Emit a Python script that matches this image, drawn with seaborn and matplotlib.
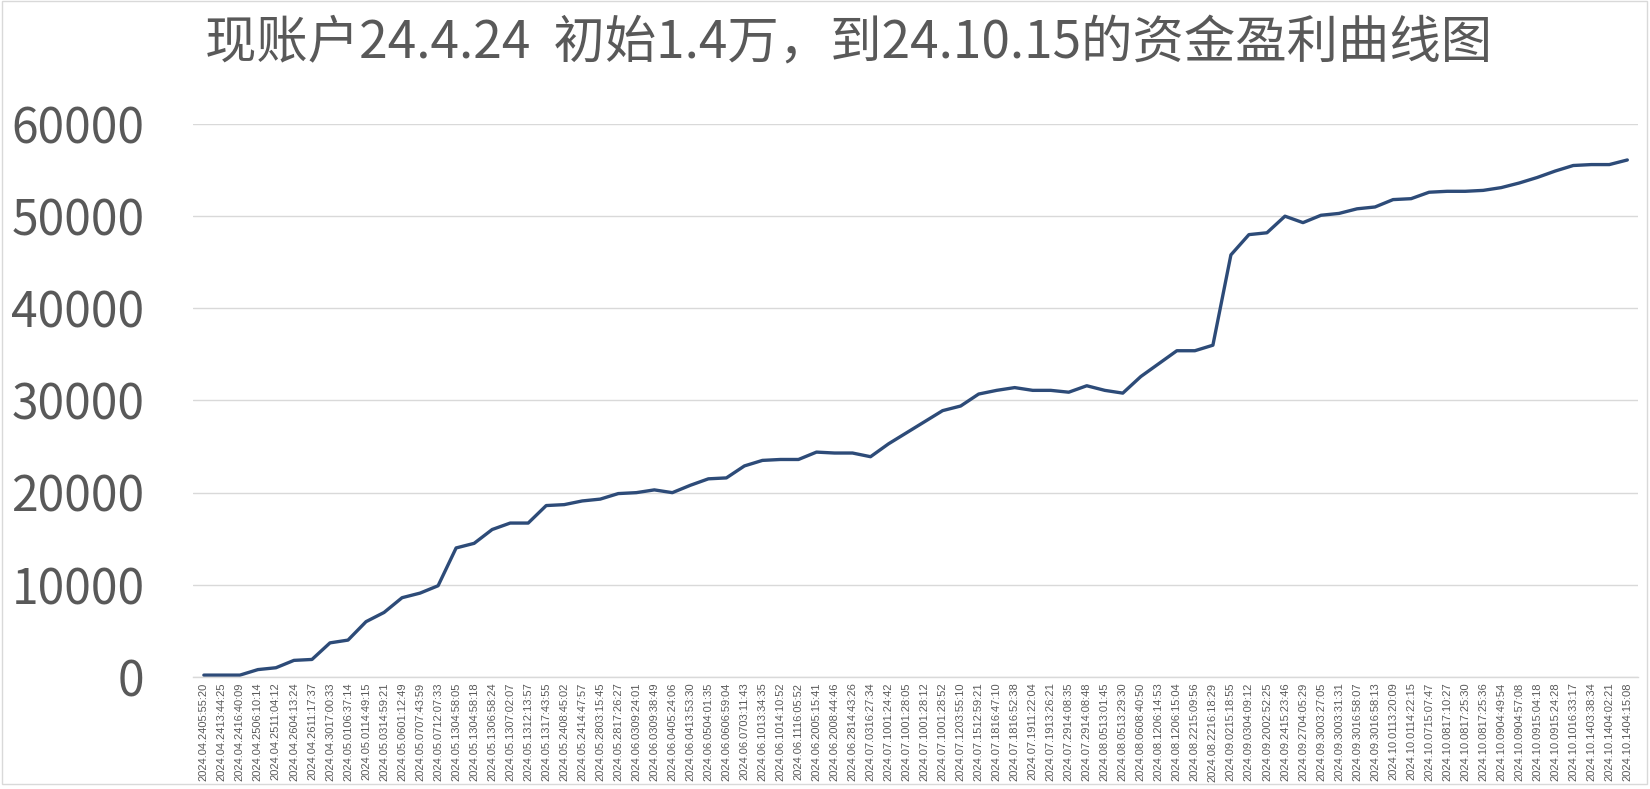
import numpy as np
import pandas as pd
import seaborn as sns
import matplotlib.pyplot as plt
from matplotlib.patches import Rectangle

# tick labels along the x axis (trade timestamps)
time_labels = [
    '2024.04.2405:55:20', '2024.04.2413:44:25', '2024.04.2416:40:09', '2024.04.2506:10:14',
    '2024.04.2511:04:12', '2024.04.2604:13:24', '2024.04.2611:17:37', '2024.04.3017:00:33',
    '2024.05.0106:37:14', '2024.05.0114:49:15', '2024.05.0314:59:21', '2024.05.0601:12:49',
    '2024.05.0707:43:59', '2024.05.0712:07:33', '2024.05.1304:58:05', '2024.05.1304:58:18',
    '2024.05.1306:58:24', '2024.05.1307:02:07', '2024.05.1312:13:57', '2024.05.1317:43:55',
    '2024.05.2408:45:02', '2024.05.2414:47:57', '2024.05.2803:15:45', '2024.05.2817:26:27',
    '2024.06.0309:24:01', '2024.06.0309:38:49', '2024.06.0405:24:06', '2024.06.0413:53:30',
    '2024.06.0504:01:35', '2024.06.0606:59:04', '2024.06.0703:11:43', '2024.06.1013:34:35',
    '2024.06.1014:10:52', '2024.06.1116:05:52', '2024.06.2005:15:41', '2024.06.2008:44:46',
    '2024.06.2814:43:26', '2024.07.0316:27:34', '2024.07.1001:24:42', '2024.07.1001:28:05',
    '2024.07.1001:28:12', '2024.07.1001:28:52', '2024.07.1203:55:10', '2024.07.1512:59:21',
    '2024.07.1816:47:10', '2024.07.1816:52:38', '2024.07.1911:22:04', '2024.07.1913:26:21',
    '2024.07.2914:08:35', '2024.07.2914:08:48', '2024.08.0513:01:45', '2024.08.0513:29:30',
    '2024.08.0608:40:50', '2024.08.1206:14:53', '2024.08.1206:15:04', '2024.08.2215:09:56',
    '2024.08.2216:18:29', '2024.09.0215:18:55', '2024.09.0304:09:12', '2024.09.2002:52:25',
    '2024.09.2415:23:46', '2024.09.2704:05:29', '2024.09.3003:27:05', '2024.09.3003:31:31',
    '2024.09.3016:58:07', '2024.09.3016:58:13', '2024.10.0113:20:09', '2024.10.0114:22:15',
    '2024.10.0715:07:47', '2024.10.0817:10:27', '2024.10.0817:25:30', '2024.10.0817:25:36',
    '2024.10.0904:49:54', '2024.10.0904:57:08', '2024.10.0915:04:18', '2024.10.0915:24:28',
    '2024.10.1016:33:17', '2024.10.1403:38:34', '2024.10.1404:02:21', '2024.10.1404:15:08',
]

# account profit
profit = [
    200, 200, 200, 800, 1000, 1800, 1900, 3700, 4000, 6000,
    7000, 8600, 9100, 9900, 14000, 14500, 16000, 16700, 16700, 18600,
    18700, 19100, 19300, 19900, 20000, 20300, 20000, 20800, 21500, 21600,
    22900, 23500, 23600, 23600, 24400, 24300, 24300, 23900, 25300, 26500,
    27700, 28900, 29400, 30700, 31100, 31400, 31100, 31100, 30900, 31600,
    31100, 30800, 32600, 34000, 35400, 35400, 36000, 45800, 48000, 48200,
    50000, 49300, 50100, 50300, 50800, 51000, 51800, 51900, 52600, 52700,
    52700, 52800, 53100, 53600, 54200, 54900, 55500, 55600, 55600, 56100,
]

title_text = '现账户24.4.24  初始1.4万，到24.10.15的资金盈利曲线图'
y_ticks = [0, 10000, 20000, 30000, 40000, 50000, 60000]

df = pd.DataFrame({'idx': np.arange(len(profit)), 'profit': profit})

sns.set_theme(style='white')
plt.rcParams['font.family'] = ['Noto Sans CJK SC', 'DejaVu Sans']

text_grey = '#595959'
grid_grey = '#D9D9D9'

fig = plt.figure(figsize=(16.5, 7.89), dpi=100)
ax = fig.add_axes([0.117, 0.142, 0.8758, 0.7008])

sns.lineplot(data=df, x='idx', y='profit', ax=ax, color='#2D4B78', linewidth=2.4)

ax.set_ylim(0, 60000)
ax.set_xlim(-0.6, len(profit) - 0.4)
ax.set_yticks(y_ticks)
ax.set_yticklabels([str(v) for v in y_ticks], fontsize=34.5, color=text_grey)
ax.set_xticks(df['idx'])
ax.set_xticklabels(time_labels, rotation=90, fontsize=8, color=text_grey,
                   family=['Liberation Sans', 'DejaVu Sans'])
ax.tick_params(axis='y', length=0, pad=35)
ax.tick_params(axis='x', length=0, pad=4)

ax.grid(axis='y', color=grid_grey, linewidth=1.0)
ax.set_axisbelow(True)
for side in ['left', 'right', 'top']:
    ax.spines[side].set_visible(False)
ax.spines['bottom'].set_color(grid_grey)
ax.spines['bottom'].set_linewidth(1.0)
ax.set_xlabel('')
ax.set_ylabel('')

fig.text(205 / 1650, 1 - 43 / 789, title_text, fontsize=37, color=text_grey,
         ha='left', va='center')

# light chart-area frame
fig.patches.append(Rectangle((0.001, 0.006), 0.997, 0.993, transform=fig.transFigure,
                             fill=False, edgecolor=grid_grey, linewidth=1.0))

fig.savefig('out.png', dpi=100)
